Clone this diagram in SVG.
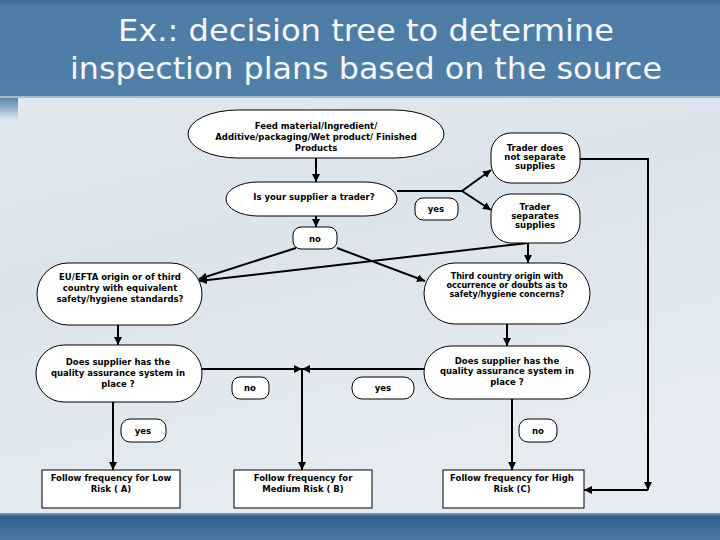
<svg xmlns="http://www.w3.org/2000/svg" width="720" height="540" viewBox="0 0 720 540">
<defs>
<linearGradient id="bg" x1="0" y1="0" x2="0.3" y2="1">
<stop offset="0" stop-color="#e4eaf0"/>
<stop offset="0.5" stop-color="#dbe3ec"/>
<stop offset="1" stop-color="#e6ecf2"/>
</linearGradient>
<linearGradient id="hdr" x1="0" y1="0" x2="0" y2="1">
<stop offset="0" stop-color="#3f6c95"/>
<stop offset="0.06" stop-color="#4c7ca5"/>
<stop offset="1" stop-color="#5080a8"/>
</linearGradient>
<linearGradient id="ftr" x1="0" y1="0" x2="0" y2="1">
<stop offset="0" stop-color="#8aa6c0"/>
<stop offset="0.12" stop-color="#33608a"/>
<stop offset="1" stop-color="#4a79a2"/>
</linearGradient>
<linearGradient id="lstrip" x1="0" y1="0" x2="0" y2="1">
<stop offset="0" stop-color="#5585ad"/>
<stop offset="1" stop-color="#5585ad" stop-opacity="0"/>
</linearGradient>
<marker id="ah" markerUnits="userSpaceOnUse" markerWidth="9" markerHeight="9" refX="8" refY="4" orient="auto">
<path d="M0,0 L8,4 L0,8 z" fill="#000"/>
</marker>
<style>
.node{fill:#fff;stroke:#000;stroke-width:1}
.lbl{fill:#fff;stroke:#000;stroke-width:1}
.t{font-family:"DejaVu Sans","Liberation Sans",sans-serif;font-weight:bold;font-size:8.5px;fill:#000;text-anchor:middle}
.ts{font-size:8px}
.title{font-family:"DejaVu Sans","Liberation Sans",sans-serif;font-size:30px;fill:#f4f6f9;text-anchor:middle}
.c{fill:none;stroke:#000;stroke-width:2}
.a{marker-end:url(#ah)}
</style>
</defs>
<rect x="0" y="0" width="720" height="540" fill="url(#bg)"/>
<rect x="0" y="0" width="720" height="96" fill="url(#hdr)"/>
<rect x="0" y="96" width="720" height="2" fill="#a9bccd"/>
<rect x="0" y="98" width="18" height="22" fill="url(#lstrip)"/>
<rect x="0" y="513" width="720" height="27" fill="url(#ftr)"/>
<text class="title" x="366" y="41" textLength="496" lengthAdjust="spacingAndGlyphs">Ex.: decision tree to determine</text>
<text class="title" x="366" y="79" textLength="592" lengthAdjust="spacingAndGlyphs">inspection plans based on the source</text>

<g id="connectors">
<path class="c a" d="M316,158 V182"/>
<path class="c" d="M397,191 H462"/>
<path class="c a" d="M462,191 L491,170"/>
<path class="c a" d="M462,191 L491,210"/>
<path class="c a" d="M580,159 H648 V490"/>
<path class="c a" d="M648,490 H584"/>
<path class="c a" d="M316,216 V227"/>
<path class="c a" d="M296,248 L199,279"/>
<path class="c a" d="M337,248 L425,281"/>
<path class="c a" d="M528,243 V263"/>
<path class="c a" d="M528,243 L199,281"/>
<path class="c a" d="M118,325 V345"/>
<path class="c a" d="M507,324 V346"/>
<path class="c a" d="M202,369 H302"/>
<path class="c a" d="M424,369 H302"/>
<path class="c a" d="M302,369 V470"/>
<path class="c a" d="M113,402 V470"/>
<path class="c a" d="M512,399 V470"/>
</g>

<g id="feed">
<rect class="node" x="188" y="110" width="256" height="48" rx="50" ry="24"/>
<text class="t" x="316" y="129">Feed material/Ingredient/</text>
<text class="t" x="316" y="140">Additive/packaging/Wet product/ Finished</text>
<text class="t" x="316" y="151">Products</text>
</g>
<g id="trader-q">
<rect class="node" x="226" y="182" width="171" height="34" rx="32" ry="17"/>
<text class="t" x="314" y="200">Is your supplier a trader?</text>
</g>
<g id="lbl-yes-top">
<rect class="lbl" x="415" y="198" width="43" height="22" rx="8"/>
<text class="t" x="436" y="212">yes</text>
</g>
<g id="trader-not-sep">
<rect class="node" x="491" y="133" width="89" height="50" rx="20"/>
<text class="t" x="535" y="151">Trader does</text>
<text class="t" x="535" y="160">not separate</text>
<text class="t" x="535" y="169">supplies</text>
</g>
<g id="trader-sep">
<rect class="node" x="491" y="194" width="89" height="49" rx="20"/>
<text class="t" x="535" y="210">Trader</text>
<text class="t" x="535" y="219">separates</text>
<text class="t" x="535" y="228">supplies</text>
</g>
<g id="lbl-no-top">
<rect class="lbl" x="293" y="227" width="44" height="22" rx="8"/>
<text class="t" x="315" y="242">no</text>
</g>
<g id="eu">
<rect class="node" x="37" y="263" width="165" height="62" rx="31"/>
<text class="t" x="120" y="280">EU/EFTA origin or of third</text>
<text class="t" x="120" y="291">country with equivalent</text>
<text class="t" x="120" y="302">safety/hygiene standards?</text>
</g>
<g id="third">
<rect class="node" x="424" y="263" width="166" height="61" rx="31"/>
<text class="t ts" x="507" y="279">Third country origin with</text>
<text class="t ts" x="507" y="288">occurrence or doubts as to</text>
<text class="t ts" x="507" y="297">safety/hygiene concerns?</text>
</g>
<g id="qa-left">
<rect class="node" x="36" y="345" width="166" height="57" rx="28"/>
<text class="t" x="118" y="365">Does supplier has the</text>
<text class="t" x="118" y="376">quality assurance system in</text>
<text class="t" x="118" y="387">place ?</text>
</g>
<g id="qa-right">
<rect class="node" x="424" y="346" width="166" height="53" rx="27"/>
<text class="t" x="507" y="364">Does supplier has the</text>
<text class="t" x="507" y="374">quality assurance system in</text>
<text class="t" x="507" y="385">place ?</text>
</g>
<g id="lbl-no-mid">
<rect class="lbl" x="232" y="377" width="37" height="22" rx="8"/>
<text class="t" x="250" y="391">no</text>
</g>
<g id="lbl-yes-mid">
<rect class="lbl" x="352" y="377" width="62" height="22" rx="10"/>
<text class="t" x="383" y="391">yes</text>
</g>
<g id="lbl-yes-left">
<rect class="lbl" x="121" y="419" width="45" height="23" rx="9"/>
<text class="t" x="143" y="434">yes</text>
</g>
<g id="lbl-no-right">
<rect class="lbl" x="519" y="419" width="38" height="23" rx="9"/>
<text class="t" x="538" y="434">no</text>
</g>
<g id="low">
<rect class="node" x="42" y="470" width="138" height="38"/>
<text class="t" x="111" y="481">Follow frequency for Low</text>
<text class="t" x="111" y="492">Risk ( A)</text>
</g>
<g id="medium">
<rect class="node" x="234" y="470" width="138" height="38"/>
<text class="t" x="303" y="481">Follow frequency for</text>
<text class="t" x="303" y="492">Medium Risk ( B)</text>
</g>
<g id="high">
<rect class="node" x="443" y="470" width="141" height="38"/>
<text class="t" x="512" y="481">Follow frequency for High</text>
<text class="t" x="512" y="492">Risk (C)</text>
</g>
</svg>
